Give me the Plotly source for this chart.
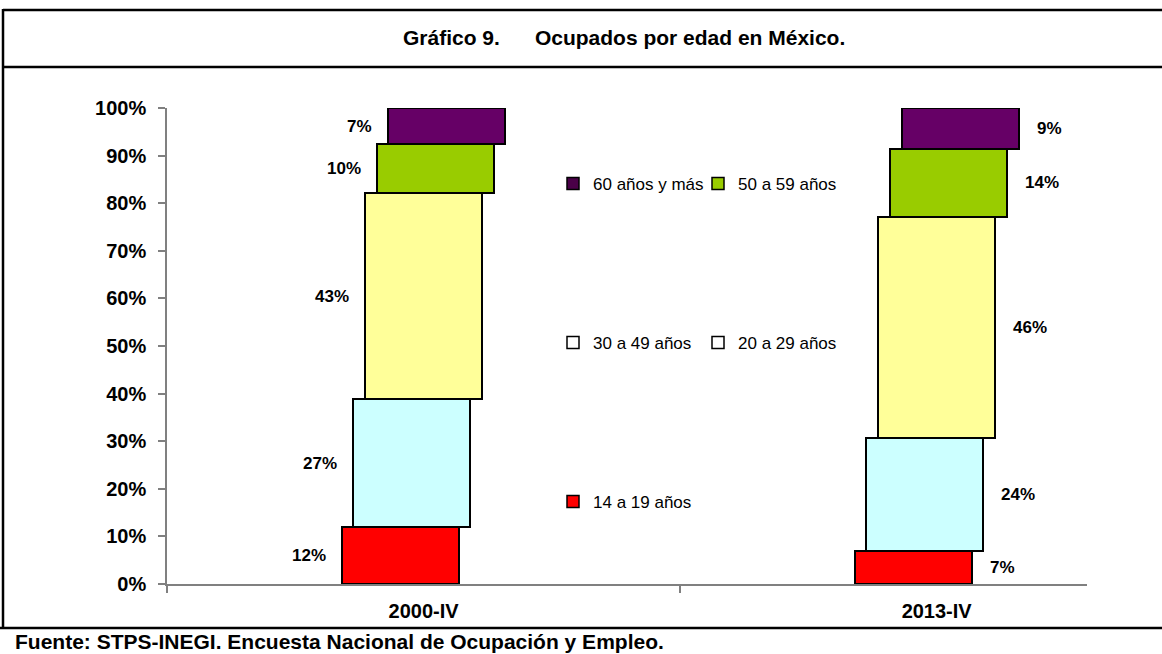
import numpy as np
import plotly.graph_objects as go

# ---------------- data ----------------
categories = ["2000-IV", "2013-IV"]
groups = ["14 a 19 años", "20 a 29 años", "30 a 49 años", "50 a 59 años", "60 años y más"]
v_14_19 = [11.9, 6.9]
v_20_29 = [27.0, 23.8]
v_30_49 = [43.2, 46.4]
v_50_59 = [10.4, 14.3]
v_60_mas = [7.4, 8.6]
y_tick_values = [0, 10, 20, 30, 40, 50, 60, 70, 80, 90, 100]
y_tick_labels = [f"{v}%" for v in y_tick_values]
title_text = "Gráfico 9." + "\u00a0" * 6 + "Ocupados por edad en México."
source_text = "Fuente: STPS-INEGI. Encuesta Nacional de Ocupación y Empleo."

# ---------------- style ----------------
series = [v_14_19, v_20_29, v_30_49, v_50_59, v_60_mas]
colors = ["#FF0000", "#CCFFFF", "#FFFF99", "#99CC00", "#660066"]
legend_colors = ["#FF0000", "#FFFFFF", "#FFFFFF", "#99CC00", "#4A0048"]
legend_of = ["legend3", "legend2", "legend2", "legend", "legend"]
FONT = "Liberation Sans, Arial, sans-serif"

W, H = 1162, 654
L, R, T, B = 167, 75, 108, 70
PW, PH = W - L - R, H - T - B
X_RANGE = [-0.5, 1.293]
U_PER_PX = (X_RANGE[1] - X_RANGE[0]) / PW
bar_w = 117 * U_PER_PX
step = 11.7 * U_PER_PX


def pxx(x):
    return (x - L) / PW


def pxy(y):
    return (H - B - y) / PH


fig = go.Figure()
cat_pos = np.arange(len(categories))
cum = np.zeros(len(categories))
annotations = []
lab_font = dict(family=FONT, size=17, color="#000000", weight="bold")
for k, (name, vals, col) in enumerate(zip(groups, series, colors)):
    vals = np.array(vals, dtype=float)
    off = (k - 2) * step
    xs = cat_pos + off
    fig.add_trace(go.Bar(
        x=xs, y=vals, base=cum, width=bar_w, name=name,
        marker=dict(color=col, line=dict(color="#000000", width=2)),
        showlegend=False, hoverinfo="skip"))
    for i, v in enumerate(vals):
        label = f"{int(np.floor(v + 0.5))}%"
        if i == 0:
            annotations.append(dict(x=xs[i] - bar_w / 2, y=cum[i] + v / 2, text=label,
                                    xanchor="right", yanchor="middle", xshift=-14,
                                    showarrow=False, font=lab_font))
        else:
            annotations.append(dict(x=xs[i] + bar_w / 2, y=cum[i] + v / 2, text=label,
                                    xanchor="left", yanchor="middle", xshift=16,
                                    showarrow=False, font=lab_font))
    cum = cum + vals

# legend-only entries
legend_order = [4, 3, 2, 1, 0]
for k in legend_order:
    fig.add_trace(go.Bar(
        x=[None], y=[None], name=groups[k], legend=legend_of[k],
        marker=dict(color=legend_colors[k], line=dict(color="#000000", width=1.5)),
        showlegend=True))

annotations.append(dict(xref="paper", yref="paper", x=pxx(624), y=pxy(37), text=title_text,
                        xanchor="center", yanchor="middle", showarrow=False,
                        font=dict(family=FONT, size=21, color="#000000", weight="bold")))
annotations.append(dict(xref="paper", yref="paper", x=pxx(13), y=pxy(641), text=source_text,
                        xanchor="left", yanchor="middle", showarrow=False,
                        font=dict(family=FONT, size=21, color="#000000", weight="bold")))

shapes = [
    dict(type="line", xref="paper", yref="paper", x0=pxx(3), x1=pxx(W), y0=pxy(10), y1=pxy(10),
         line=dict(color="#000000", width=2.5)),
    dict(type="line", xref="paper", yref="paper", x0=pxx(3), x1=pxx(W), y0=pxy(67), y1=pxy(67),
         line=dict(color="#000000", width=2.5)),
    dict(type="line", xref="paper", yref="paper", x0=pxx(0), x1=pxx(W), y0=pxy(628), y1=pxy(628),
         line=dict(color="#000000", width=2.5)),
    dict(type="line", xref="paper", yref="paper", x0=pxx(3), x1=pxx(3), y0=pxy(9), y1=pxy(629),
         line=dict(color="#000000", width=2.5)),
]

leg_font = dict(family=FONT, size=17, color="#000000")
leg_common = dict(orientation="h", xanchor="left", yanchor="middle", font=leg_font,
                  bgcolor="rgba(0,0,0,0)", entrywidth=100, entrywidthmode="pixels",
                  traceorder="normal", itemclick=False, itemdoubleclick=False)

fig.update_layout(
    width=W, height=H,
    margin=dict(l=L, r=R, t=T, b=B, autoexpand=False),
    paper_bgcolor="#FFFFFF", plot_bgcolor="#FFFFFF",
    barmode="overlay",
    bargap=0,
    annotations=annotations,
    shapes=shapes,
    legend=dict(x=pxx(553), y=pxy(184), **leg_common),
    legend2=dict(x=pxx(553), y=pxy(343), **leg_common),
    legend3=dict(x=pxx(553), y=pxy(502), **leg_common),
    xaxis=dict(range=X_RANGE, tickvals=list(cat_pos), ticktext=categories,
               showline=True, linecolor="#808080", linewidth=1.5,
               ticks="", showgrid=False, zeroline=False, ticklabelstandoff=8,
               tickfont=dict(family=FONT, size=20, color="#000000", weight="bold"),
               minor=dict(tickvals=[-0.5, 0.5], ticks="outside", ticklen=7,
                          tickcolor="#808080", tickwidth=1.5, showgrid=False),
               fixedrange=True),
    yaxis=dict(range=[0, 100], tickvals=y_tick_values, ticktext=y_tick_labels,
               showline=True, linecolor="#808080", linewidth=1.5,
               ticks="outside", ticklen=7, tickcolor="#808080", tickwidth=1.5,
               showgrid=False, zeroline=False, ticklabelstandoff=8,
               tickfont=dict(family=FONT, size=20, color="#000000", weight="bold"),
               fixedrange=True),
)

fig.write_html("out.html", config={"displayModeBar": False},
               post_script="document.body.style.margin='0px';")
